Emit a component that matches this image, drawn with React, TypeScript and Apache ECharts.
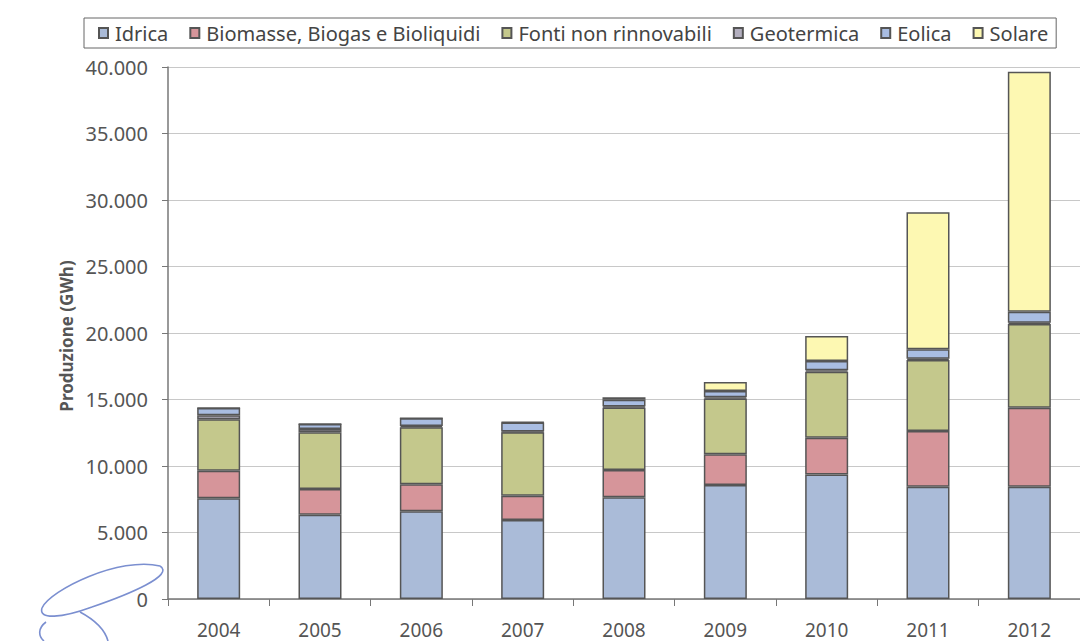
import React, { useEffect, useRef } from "react";
import * as echarts from "echarts";

const years = ["2004", "2005", "2006", "2007", "2008", "2009", "2010", "2011", "2012"];
const idrica = [7570, 6340, 6590, 5940, 7650, 8570, 9370, 8440, 8440];
const biomasse = [2080, 1930, 2030, 1830, 2050, 2310, 2760, 4190, 5940];
const fonti = [3860, 4260, 4290, 4760, 4700, 4190, 4960, 5340, 6300];
const geotermica = [300, 250, 100, 60, 80, 100, 100, 100, 100];
const eolica = [550, 380, 580, 680, 500, 470, 700, 700, 820];
const solare = [10, 10, 10, 40, 190, 680, 1880, 10300, 18050];

const seriesNames = [
  "Idrica",
  "Biomasse, Biogas e Bioliquidi",
  "Fonti non rinnovabili",
  "Geotermica",
  "Eolica",
  "Solare",
];
const seriesData = [idrica, biomasse, fonti, geotermica, eolica, solare];
const colors = ["#aabbd8", "#d6959a", "#c4c88c", "#b3afbf", "#a9bde2", "#fdf8b2"];
const yAxisTitle = "Produzione (GWh)";

const fmt = (v: number) => String(v).replace(/\B(?=(\d{3})+(?!\d))/g, ".");

export default function App() {
  const ref = useRef<HTMLDivElement>(null);
  useEffect(() => {
    document.body.style.margin = "0";
    const chart = echarts.init(ref.current!, null, { renderer: "svg" });
    const font = "'Noto Sans', sans-serif";
    const pen = { stroke: "#7b8fd0", lineWidth: 1.6, fill: null as any };
    chart.setOption({
      animation: false,
      backgroundColor: "#ffffff",
      color: colors,
      legend: {
        top: 18,
        left: 84,
        data: seriesNames,
        icon: "rect",
        itemWidth: 9,
        itemHeight: 10,
        itemGap: 21,
        padding: [5, 8, 5, 14],
        borderColor: "#666",
        borderWidth: 1,
        textStyle: { fontFamily: font, fontSize: 20, color: "#444", padding: [0, 0, 0, 2] },
      },
      grid: { left: 168, right: -11, top: 67, bottom: 42 },
      xAxis: {
        type: "category",
        data: years,
        axisLine: { lineStyle: { color: "#777", width: 1.5 } },
        axisTick: { show: true, length: 7, alignWithLabel: false, lineStyle: { color: "#777" } },
        axisLabel: { fontFamily: font, fontSize: 19, color: "#555", margin: 21 },
      },
      yAxis: {
        type: "value",
        min: 0,
        max: 40000,
        interval: 5000,
        axisLine: { show: true, lineStyle: { color: "#777", width: 1.5 } },
        axisTick: { show: true, length: 6, lineStyle: { color: "#777" } },
        axisLabel: { fontFamily: font, fontSize: 20, color: "#555", margin: 20, formatter: (v: number) => fmt(v) },
        splitLine: { lineStyle: { color: "#c8c8c8", width: 1 } },
      },
      graphic: [
        {
          type: "text",
          x: 66,
          y: 336,
          rotation: Math.PI / 2,
          style: {
            text: yAxisTitle,
            fontFamily: font,
            fontSize: 17,
            fontWeight: "bold",
            fill: "#555",
            align: "center",
            verticalAlign: "middle",
          },
        },
        { type: "bezierCurve", shape: { x1: 160, y1: 566, cpx1: 120, cpy1: 556, cpx2: 50, cpy2: 590, x2: 42, y2: 608 }, style: pen },
        { type: "bezierCurve", shape: { x1: 42, y1: 608, cpx1: 38, cpy1: 620, cpx2: 62, cpy2: 618, x2: 92, y2: 607 }, style: pen },
        { type: "bezierCurve", shape: { x1: 92, y1: 607, cpx1: 130, cpy1: 594, cpx2: 175, cpy2: 575, x2: 160, y2: 566 }, style: pen },
        { type: "bezierCurve", shape: { x1: 80, y1: 612, cpx1: 95, cpy1: 620, cpx2: 105, cpy2: 630, x2: 108, y2: 641 }, style: pen },
        { type: "bezierCurve", shape: { x1: 46, y1: 622, cpx1: 38, cpy1: 628, cpx2: 38, cpy2: 636, x2: 44, y2: 641 }, style: pen },
      ],
      series: seriesNames.map((name, i) => ({
        name,
        type: "bar",
        stack: "total",
        barWidth: 43,
        data: seriesData[i],
        itemStyle: { color: colors[i], borderColor: "#555", borderWidth: 1.5 },
      })),
    });
    return () => chart.dispose();
  }, []);
  return <div ref={ref} style={{ width: 1080, height: 641 }} />;
}
